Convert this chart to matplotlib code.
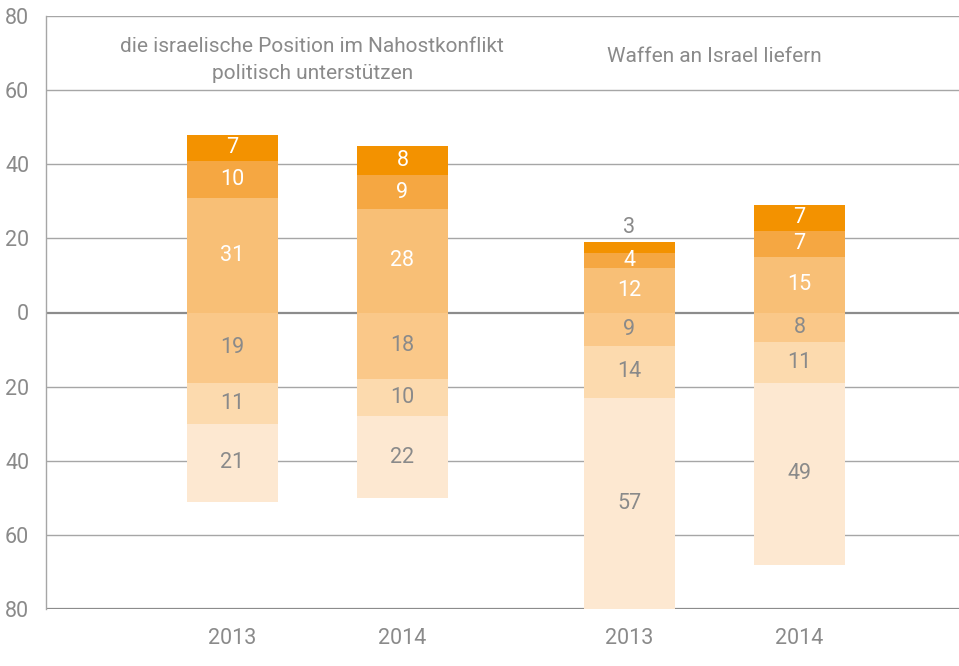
import numpy as np
import matplotlib
matplotlib.use("Agg")
from matplotlib import pyplot as plt
from matplotlib import font_manager

# --- data ---
years = ["2013", "2014", "2013", "2014"]
positions = [0, 1, 2.335, 3.335]
group_titles = ["die israelische Position im Nahostkonflikt\npolitisch unterstützen",
                "Waffen an Israel liefern"]

# above zero (from the axis upwards)
pos_low = [31, 28, 12, 15]
pos_mid = [10, 9, 4, 7]
pos_top = [7, 8, 3, 7]
# below zero (from the axis downwards)
neg_near = [19, 18, 9, 8]
neg_mid = [11, 10, 14, 11]
neg_far = [21, 22, 57, 49]

yticks = [-80, -60, -40, -20, 0, 20, 40, 60, 80]

names = {f.name for f in font_manager.fontManager.ttflist}
fam = "Liberation Sans Narrow" if "Liberation Sans Narrow" in names else "Roboto"
plt.rcParams['font.family'] = [fam, 'DejaVu Sans']

grey = "#8a8a8a"
c_pos = ["#f8bf76", "#f5a742", "#f39200"]
c_neg = ["#fac889", "#fcdaae", "#fde8d1"]

fig = plt.figure(figsize=(9.59, 6.66), dpi=100)
ax = fig.add_axes([46 / 959, 57 / 666, 913 / 959, 593 / 666])

w = 0.535
x = np.array(positions)

# positive stack
bottom = np.zeros(len(x))
for vals, col in zip([pos_low, pos_mid, pos_top], c_pos):
    v = np.array(vals, dtype=float)
    ax.bar(x, v, w, bottom=bottom, color=col, zorder=3, linewidth=0)
    for xi, b, vi in zip(x, bottom, v):
        if vi < 3.5:
            # too thin for the label, put it above the bar
            ax.text(xi, b + vi + 1.0, f"{int(vi)}", ha="center", va="bottom",
                    color=grey, fontsize=15.5, zorder=4)
        else:
            ax.text(xi, b + vi / 2, f"{int(vi)}", ha="center", va="center",
                    color="white", fontsize=15.5, zorder=4)
    bottom += v

# negative stack
bottom = np.zeros(len(x))
for vals, col in zip([neg_near, neg_mid, neg_far], c_neg):
    v = np.array(vals, dtype=float)
    ax.bar(x, -v, w, bottom=bottom, color=col, zorder=3, linewidth=0)
    for xi, b, vi in zip(x, bottom, v):
        ax.text(xi, b - vi / 2, f"{int(vi)}", ha="center", va="center",
                color=grey, fontsize=15.5, zorder=4)
    bottom -= v

# grid lines
for t in yticks:
    lw = 1.6 if t == 0 or t == -80 else 1.0
    col = "#8c8c8c" if t in (0, -80) else "#a6a6a6"
    ax.axhline(t, color=col, lw=lw, zorder=1)

ax.set_ylim(-80, 80)
ax.set_xlim(-1.097, 4.274)
ax.set_yticks(yticks)
ax.set_yticklabels([str(abs(t)) for t in yticks])
ax.set_xticks(positions)
ax.set_xticklabels(years)
ax.tick_params(axis="both", length=0, colors=grey, labelsize=15.5)
ax.tick_params(axis="y", pad=12)
ax.tick_params(axis="x", pad=14)

for s in ["top", "right", "bottom"]:
    ax.spines[s].set_visible(False)
ax.spines["left"].set_color("#a6a6a6")
ax.spines["left"].set_linewidth(1.0)

ax.text(0.47, 68.2, group_titles[0], ha="center", va="center", color=grey,
        fontsize=15, linespacing=1.55)
ax.text(2.835, 69.2, group_titles[1], ha="center", va="center", color=grey,
        fontsize=15)

fig.savefig("out.png", dpi=100)
